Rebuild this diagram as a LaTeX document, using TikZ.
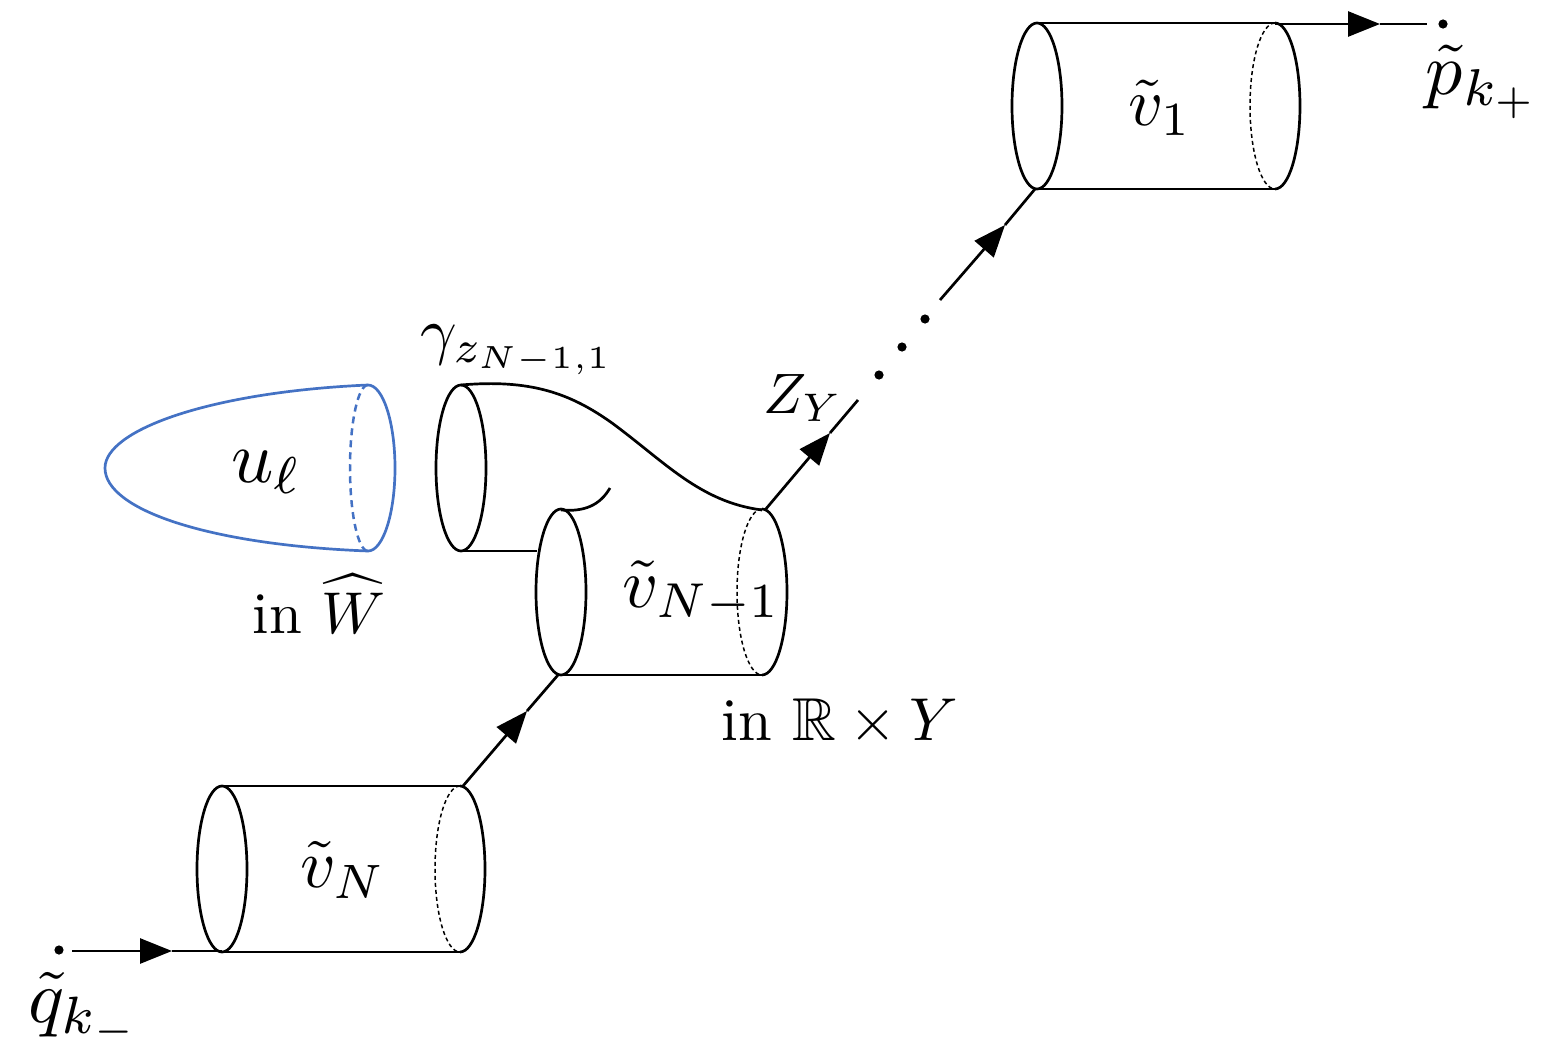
\documentclass[tikz,border=0pt]{standalone}
\usepackage{amssymb}
\usepackage{xcolor}
\usepackage{tikz}
\usetikzlibrary{arrows.meta}

\definecolor{capblue}{HTML}{4472C4}
\tikzset{
  tube/.style={line width=1.35pt},
  hidden/.style={line width=0.75pt, dash pattern=on 2pt off 1.5pt},
  tip/.style={line width=1.35pt, -{Triangle[length=16pt,width=12.5pt]}},
  dot/.style={circle, fill, inner sep=0pt, minimum size=4.6pt},
  lab/.style={inner sep=0pt}
}

\begin{document}
\begin{tikzpicture}[x=0.5pt, y=-0.5pt]
  \useasboundingbox (0,0) rectangle (1555,1060);

  % Cylinders: left end, sides, right end
  \foreach \xl/\xr/\yc in {222/460/869, 561/762/592, 1037/1275/106} {
    \draw[tube] (\xl,\yc) ellipse [x radius=25, y radius=83];
    \draw[tube] (\xl,\yc+83) -- (\xr,\yc+83);
    \draw[tube] (\xr,\yc-83) arc [start angle=-90, end angle=90, x radius=25, y radius=83];
    \draw[hidden] (\xr,\yc-83) arc [start angle=-90, end angle=-270, x radius=25, y radius=83];
  }
  \draw[tube] (222,786) -- (460,786);
  \draw[tube] (1037,23) -- (1275,23);

  % Branch of the middle piece
  \draw[tube] (461,468) ellipse [x radius=25, y radius=83];
  \draw[tube] (461,551) -- (537,551);
  \draw[tube] (461,385) .. controls (530,379) and (570,393) .. (612,423)
    .. controls (665,462) and (700,502) .. (762,510);
  \draw[tube] (561,510) .. controls (585,512) and (600,505) .. (610,488);

  % Plane
  \draw[capblue, tube] (368,385) .. controls (210,392) and (105,430) .. (105,468)
    .. controls (105,510) and (210,545) .. (368,551)
    arc [start angle=90, end angle=-90, x radius=27, y radius=83];
  \draw[capblue, line width=1.25pt, dash pattern=on 3.5pt off 2.5pt]
    (368,385) arc [start angle=-90, end angle=-270, x radius=18, y radius=83];

  % End points and dots
  \node[dot] (qk) at (59,950) {};
  \node[dot] (pk) at (1443,24) {};
  \node[dot] (d1) at (879,375) {};
  \node[dot] (d2) at (902,347) {};
  \node[dot] (d3) at (925,319) {};

  % Trajectories
  \coordinate (qstart) at (72,951);
  \coordinate (qtip) at (172,951);
  \coordinate (qend) at (222,951);
  \coordinate (a1) at (463,786);
  \coordinate (a2) at (527,711);
  \coordinate (a3) at (558,675);
  \coordinate (b1) at (765,510);
  \coordinate (b2) at (830,433);
  \coordinate (b3) at (858,400);
  \coordinate (c1) at (940,300);
  \coordinate (c2) at (1005,225);
  \coordinate (c3) at (1035,189);
  \coordinate (e1) at (1275,24);
  \coordinate (e2) at (1380,24);
  \coordinate (e3) at (1427,24);
  \foreach \s/\t/\u in {qstart/qtip/qend, a1/a2/a3, b1/b2/b3, c1/c2/c3, e1/e2/e3} {
    \draw[tip] (\s) -- (\t);
    \draw[tube] (\t) -- (\u);
  }

  % Labels
  \node[lab, scale=3.45] (vN) at (343,870) {$\tilde{v}_N$};
  \node[lab, scale=3.5] (vM) at (702,592) {$\tilde{v}_{N-1}$};
  \node[lab, scale=3.4] (v1) at (1160,108) {$\tilde{v}_1$};
  \node[lab, scale=3.7] (ul) at (267,472) {$u_\ell$};
  \node[lab, scale=2.95] (inW) at (319,604) {in $\widehat{W}$};
  \node[lab, scale=3.03] (inR) at (840,722) {in $\mathbb{R}\times Y$};
  \node[lab, scale=3.2] (gam) at (518,350) {$\gamma_{z_{N-1,1}}$};
  \node[lab, scale=2.85] (ZY) at (803,398) {$Z_Y$};
  \node[lab, scale=3.7] (pl) at (1483,82) {$\tilde{p}_{k_+}$};
  \node[lab, scale=3.75] (ql) at (85,1010) {$\tilde{q}_{k_-}$};
\end{tikzpicture}
\end{document}
